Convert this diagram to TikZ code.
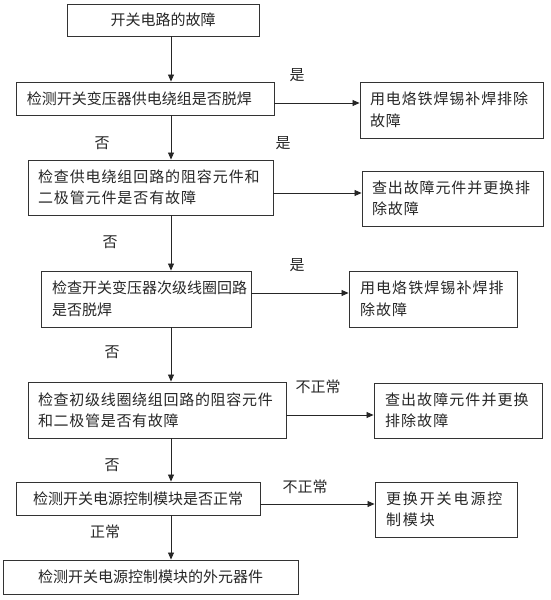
\documentclass[tikz,border=0pt]{standalone}
\usepackage{fontspec}
\setmainfont{Noto Sans CJK SC}
\usetikzlibrary{arrows.meta}
\newcommand{\lsp}[1]{\addfontfeatures{LetterSpace=#1}}
\begin{document}
\begin{tikzpicture}[x=1pt,y=-1pt,
  box/.style={draw=black!80, line width=0.9pt, inner sep=0pt, inner xsep=11pt,
    font=\fontsize{15}{21.5}\selectfont, text=black!85},
  cbox/.style={box, align=center},
  lbox/.style={box, align=left},
  arr/.style={draw=black!85, line width=0.8pt, -{Triangle[length=7pt,width=6pt]}},
  lab/.style={font=\fontsize{15}{17}\selectfont, text=black!85}]
\useasboundingbox (0,0) rectangle (551,600);
% main column
\node[cbox, minimum width=192pt, minimum height=32pt] (b1) at (163,20) {开关电路的故障};
\node[lbox, text width=236pt, minimum height=33pt] (b2) at (145,98.5) {检测开关变压器供电绕组是否脱焊};
\node[lbox, text width=225pt, inner xsep=10pt, minimum height=55pt] (b3) at (150.5,187.5) {\lsp{6}检查供电绕组回路的阻容元件和\\二极管元件是否有故障};
\node[lbox, text width=188pt, minimum height=56pt] (b4) at (146,299) {检查开关变压器次级线圈回路\\是否脱焊};
\node[lbox, text width=238pt, inner xsep=10pt, minimum height=56pt] (b5) at (157,410) {\lsp{4.7}检查初级线圈绕组回路的阻容元件\\和二极管是否有故障};
\node[cbox, minimum width=244pt, minimum height=33pt] (b6) at (138,498.5) {检测开关电源控制模块是否正常};
\node[cbox, minimum width=295pt, minimum height=34pt] (b7) at (150.5,577) {检测开关电源控制模块的外元器件};
% right column
\node[lbox, text width=163pt, inner xsep=10pt, minimum height=56pt] (r1) at (451.5,110) {\lsp{6}用电烙铁焊锡补焊排除\\故障};
\node[lbox, text width=161pt, inner xsep=10pt, minimum height=55pt] (r2) at (452.5,198.5) {\lsp{6}查出故障元件并更换排\\除故障};
\node[lbox, text width=146pt, minimum height=56pt] (r3) at (433,299) {\lsp{7.3}用电烙铁焊锡补焊排\\除故障};
\node[lbox, text width=146pt, minimum height=55pt] (r4) at (458,410.5) {\lsp{7.3}查出故障元件并更换\\排除故障};
\node[lbox, text width=120pt, minimum height=55pt] (r5) at (446,509.5) {\lsp{12.7}更换开关电源控\\制模块};
% helper coordinates
\coordinate (ax) at (171,0);
\coordinate (y1) at (0,103);
\coordinate (y2) at (0,193);
\coordinate (y3) at (0,293);
\coordinate (y4) at (0,415);
\coordinate (y5) at (0,504);
% vertical arrows
\draw[arr] (b1.south -| ax) -- (b2.north -| ax);
\draw[arr] (b2.south -| ax) -- (b3.north -| ax);
\draw[arr] (b3.south -| ax) -- (b4.north -| ax);
\draw[arr] (b4.south -| ax) -- (b5.north -| ax);
\draw[arr] (b5.south -| ax) -- (b6.north -| ax);
\draw[arr] (b6.south -| ax) -- (b7.north -| ax);
% horizontal arrows
\draw[arr] (b2.east |- y1) -- (r1.west |- y1);
\draw[arr] (b3.east |- y2) -- (r2.west |- y2);
\draw[arr] (b4.east |- y3) -- (r3.west |- y3);
\draw[arr] (b5.east |- y4) -- (r4.west |- y4);
\draw[arr] (b6.east |- y5) -- (r5.west |- y5);
% labels
\node[lab] (l1) at (297,75) {是};
\node[lab] (l2) at (102,143) {否};
\node[lab] (l3) at (283,143) {是};
\node[lab] (l4) at (110,242) {否};
\node[lab] (l5) at (297,265) {是};
\node[lab] (l6) at (112,352) {否};
\node[lab] (l7) at (318,387) {不正常};
\node[lab] (l8) at (112,465) {否};
\node[lab] (l9) at (305,487) {不正常};
\node[lab] (l10) at (105,532) {正常};
\end{tikzpicture}
\end{document}
